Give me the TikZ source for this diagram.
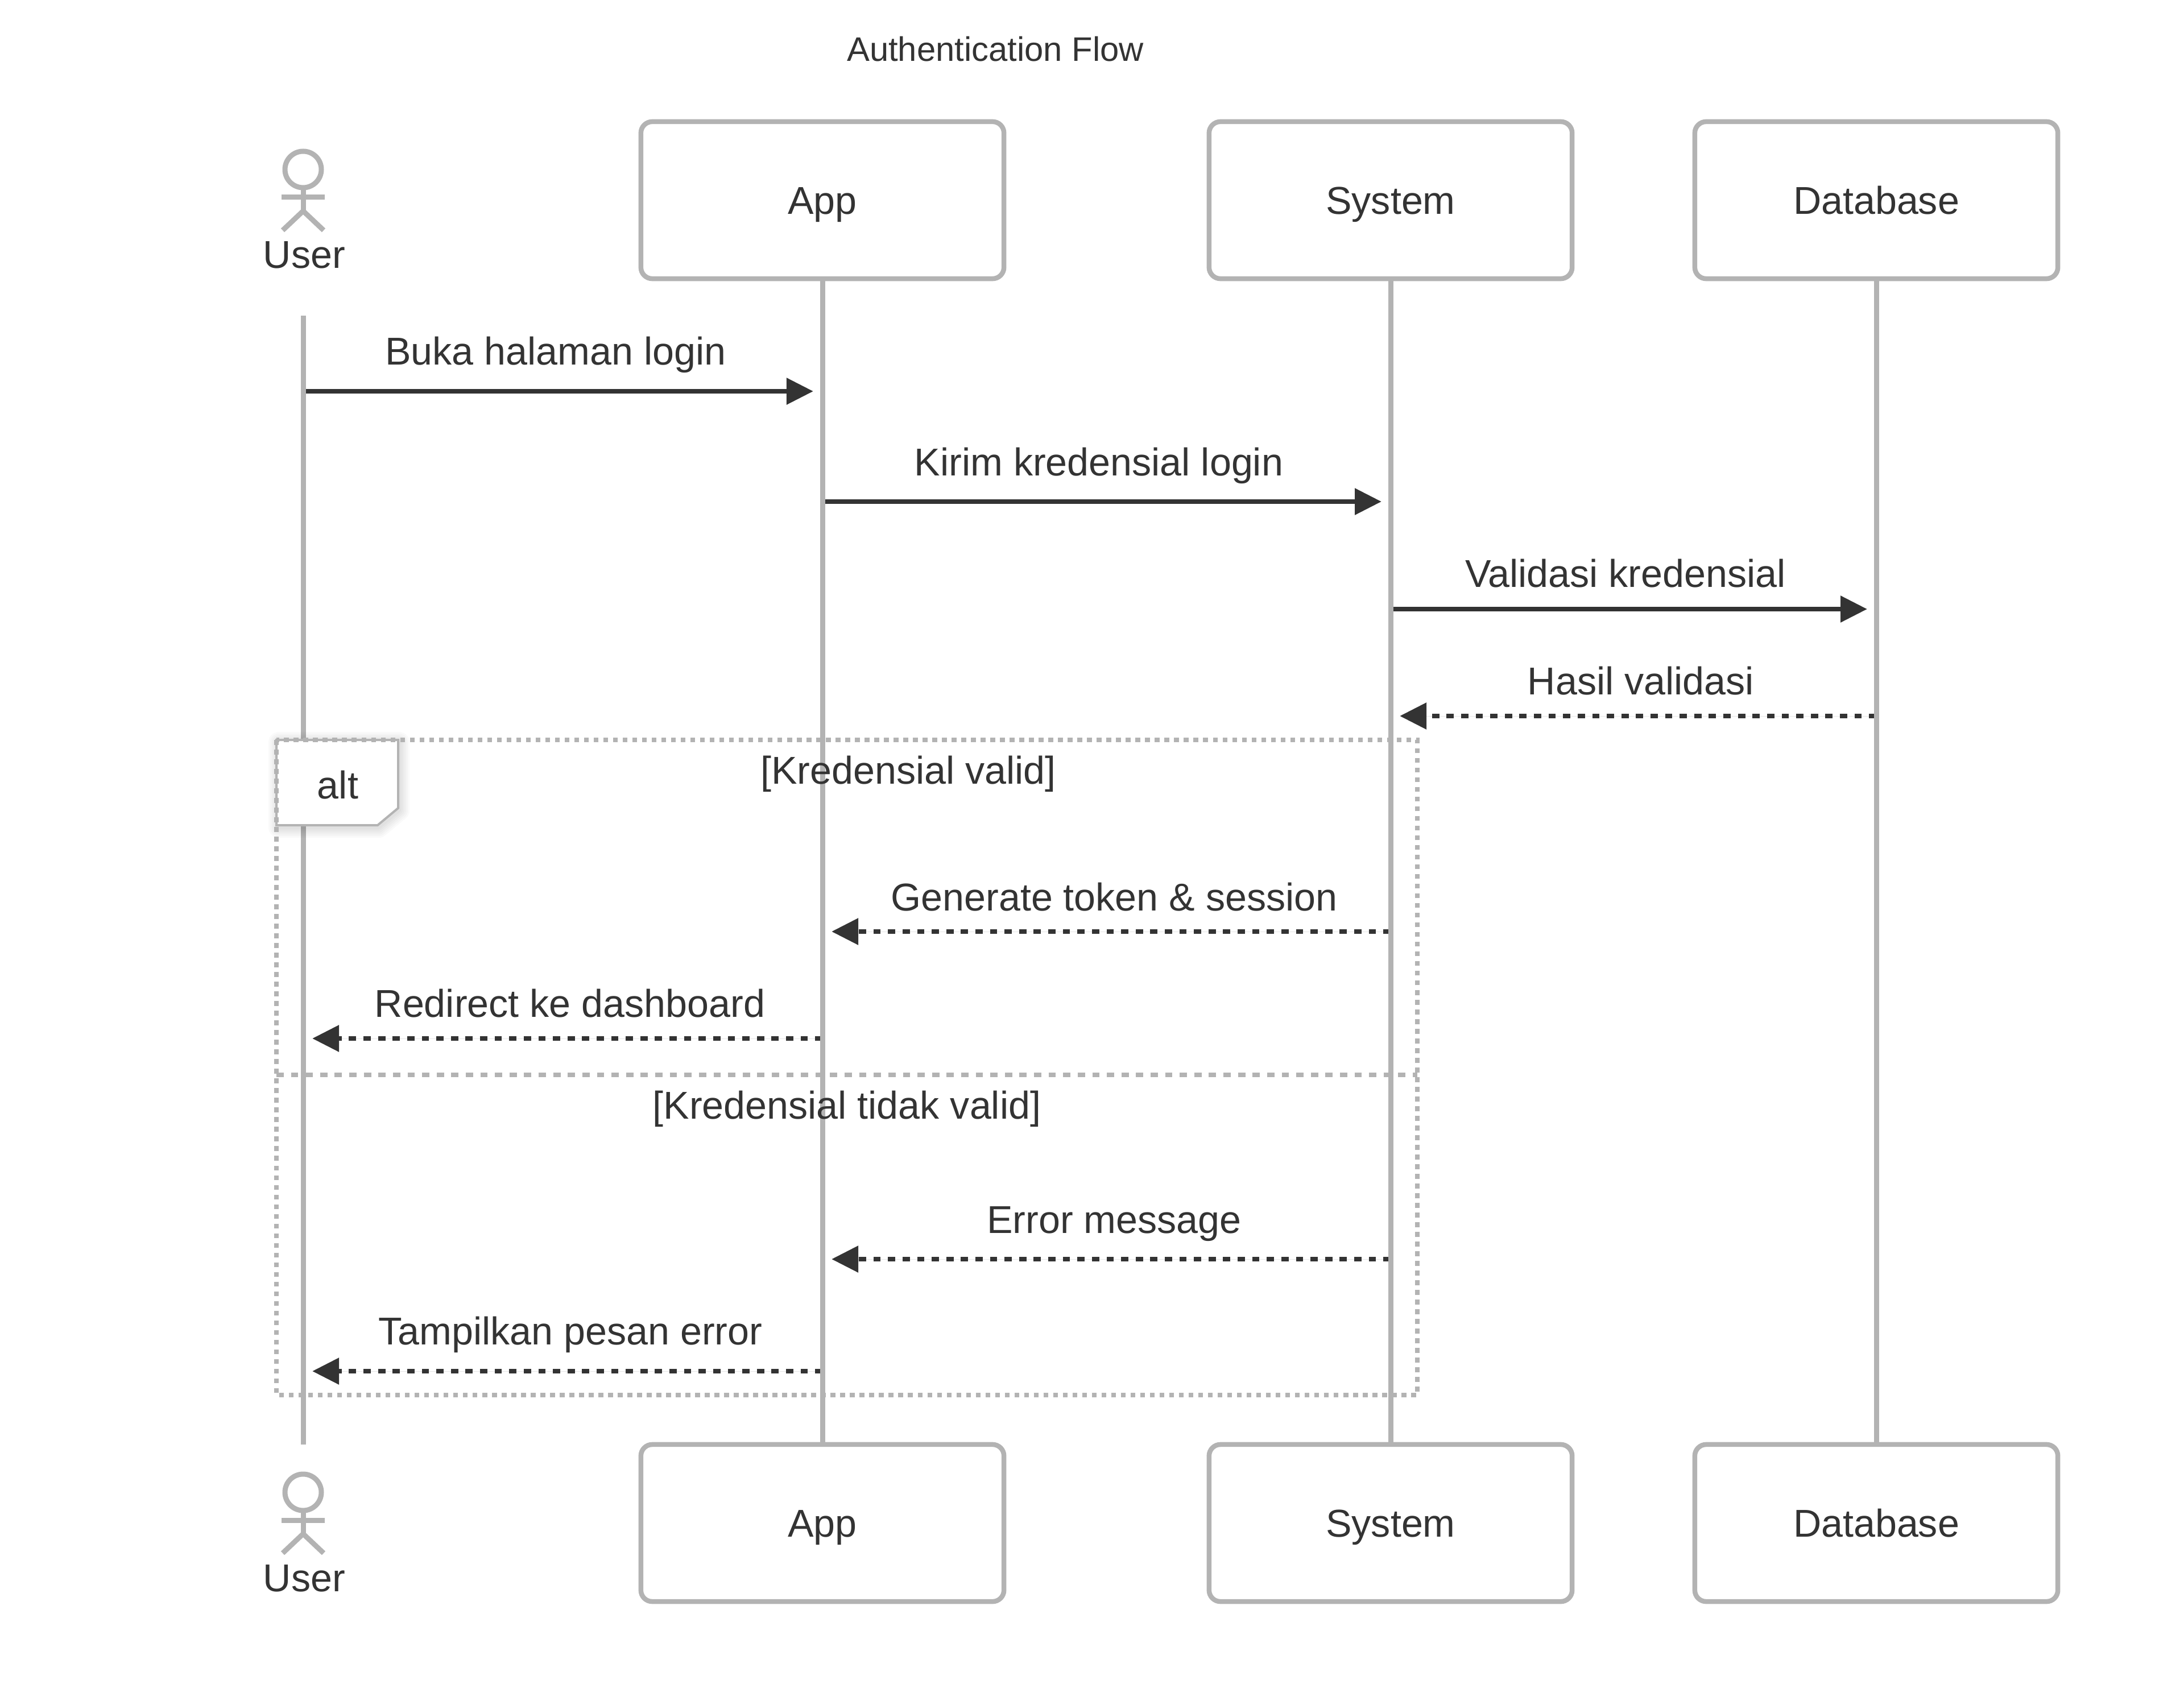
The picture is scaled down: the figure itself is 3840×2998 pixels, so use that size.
\documentclass[tikz,border=0pt]{standalone}
\usepackage{fontspec}
\setmainfont{Liberation Sans}
\usetikzlibrary{arrows.meta}
\begin{document}
\begin{tikzpicture}[x=0.01cm, y=-0.01cm]
    \definecolor{lineColour}{HTML}{B3B3B3}
    \definecolor{textColour}{HTML}{333333}

    \def\xUser{533}
    \def\xApp{1446}
    \def\xSystem{2445}
    \def\xDatabase{3299}

    \tikzset{
        lifeline/.style={draw=lineColour, line width=0.09cm},
        actorbox/.style={draw=lineColour, fill=white, line width=0.085cm, rounded corners=0.2cm,
            minimum width=6.38cm, minimum height=2.76cm, inner sep=0pt, text=textColour,
            font=\fontsize{19.4}{24}\selectfont, text height=0.48cm, text depth=0pt},
        msgtext/.style={anchor=base, inner sep=0pt, text=textColour, font=\fontsize{19.4}{24}\selectfont},
        solidmsg/.style={draw=textColour, fill=textColour, line width=0.088cm,
            -{Triangle[length=0.47cm,width=0.45cm]}},
        replymsg/.style={solidmsg, dash pattern=on 0.128cm off 0.128cm},
        framedot/.style={draw=lineColour, line width=0.088cm, dash pattern=on 0.085cm off 0.085cm}
    }

    \useasboundingbox (0,0) rectangle (3840,2998);

    % Title
    \node[msgtext, font=\fontsize{17}{21}\selectfont] (title) at (1750,108) {Authentication Flow};

    % Messages going right
    \foreach \i/\xa/\xb/\yy/\lx/\ly/\txt in {
        1/\xUser/\xApp/688/977/642/Buka halaman login,
        2/\xApp/\xSystem/882/1932/837/Kirim kredensial login,
        3/\xSystem/\xDatabase/1071/2858/1033/Validasi kredensial}
    {
        \coordinate (from\i) at (\xa,\yy);
        \coordinate (to\i) at (\xb-16,\yy);
        \draw[solidmsg] (from\i) -- (to\i);
        \node[msgtext] (label\i) at (\lx,\ly) {\txt};
    }

    % Replies going left
    \foreach \i/\xa/\xb/\yy/\lx/\ly/\txt in {
        4/\xDatabase/\xSystem/1259/2885/1221/Hasil validasi,
        5/\xSystem/\xApp/1638/1959/1601/Generate token \& session,
        6/\xApp/\xUser/1826/1002/1788/Redirect ke dashboard,
        7/\xSystem/\xApp/2214/1959/2168/Error message,
        8/\xApp/\xUser/2411/1003/2364/Tampilkan pesan error}
    {
        \coordinate (from\i) at (\xa,\yy);
        \coordinate (to\i) at (\xb+16,\yy);
        \draw[replymsg] (from\i) -- (to\i);
        \node[msgtext] (label\i) at (\lx,\ly) {\txt};
    }

    % Participant boxes, top and bottom
    \foreach \name/\xx/\txt in {app/\xApp/App, system/\xSystem/System, database/\xDatabase/Database} {
        \node[actorbox] (\name Top) at (\xx,352) {\txt};
        \node[actorbox] (\name Bot) at (\xx,2678) {\txt};
        \draw[lifeline] (\name Top) -- (\name Bot);
    }

    % User actor, top and bottom
    \foreach \name/\dy in {Top/0, Bot/2326} {
        \draw[lifeline] (\xUser,298+\dy) ellipse (32 and 32);
        \draw[lifeline] (\xUser,330+\dy) -- (\xUser,371+\dy);
        \draw[lifeline] (\xUser-38,347+\dy) -- (\xUser+38,347+\dy);
        \draw[lifeline] (\xUser-36,405+\dy) -- (\xUser,371+\dy) -- (\xUser+36,405+\dy);
        \node[msgtext] (user\name) at (\xUser+2,472+\dy) {User};
    }
    \coordinate (userStart) at (\xUser,555);
    \coordinate (userEnd) at (\xUser,2540);
    \draw[lifeline] (userStart) -- (userEnd);

    % Alt label with its soft shadow
    \foreach \w in {0.36,0.30,0.24,0.18,0.12,0.06}
        \draw[black, opacity=0.018, line width=\w cm, line join=round]
            (490,1305) -- (702,1305) -- (702,1425) -- (666,1455) -- (490,1455) -- cycle;
    \filldraw[fill=white, draw=lineColour, line width=0.04cm]
        (486,1301) -- (700,1301) -- (700,1421) -- (664,1451) -- (486,1451) -- cycle;
    \node[msgtext] (altLabel) at (594,1404) {alt};

    % Alt frame and divider
    \draw[framedot] (486,1301) rectangle (2492,2453);
    \draw[lineColour, line width=0.088cm, dash pattern=on 0.128cm off 0.128cm] (486,1890) -- (2492,1890);
    \node[msgtext] (validLabel) at (1597,1378) {[Kredensial valid]};
    \node[msgtext] (invalidLabel) at (1489,1967) {[Kredensial tidak valid]};

\end{tikzpicture}
\end{document}
